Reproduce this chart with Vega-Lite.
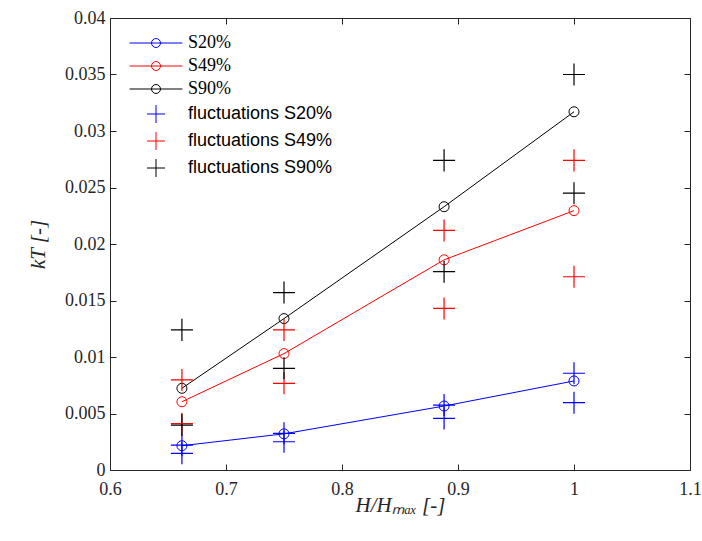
{
  "$schema": "https://vega.github.io/schema/vega-lite/v6.json",
  "width": 580,
  "height": 452,
  "autosize": {"type": "none"},
  "padding": {"left": 110, "top": 18, "right": 12, "bottom": 71},
  "background": "white",
  "config": {
    "view": {"stroke": null},
    "axis": {
      "domainColor": "#262626",
      "tickColor": "#262626",
      "labelColor": "#262626",
      "titleColor": "#262626",
      "labelFont": "Liberation Serif",
      "labelFontSize": 18,
      "titleFont": "Liberation Serif",
      "titleFontSize": 21,
      "titleFontWeight": "normal",
      "titleFontStyle": "italic",
      "grid": false,
      "tickSize": -6,
      "domainWidth": 1,
      "tickWidth": 1
    },
    "legend": {
      "title": null,
      "orient": "none",
      "legendX": 37,
      "legendY": 16,
      "padding": 0,
      "symbolSize": 256,
      "symbolStrokeWidth": 1,
      "symbolFillColor": "transparent",
      "labelOffset": 23,
      "labelFont": {"expr": "indexof(datum.value, 'fluct') >= 0 ? 'Liberation Sans' : 'Liberation Serif'"},
      "labelFontSize": 18,
      "labelColor": "#000000",
      "rowPadding": 5,
      "labelLimit": 300
    }
  },
  "data": {
    "values": [
      {"x": 0.662, "y": 0.00215, "series": "S20%", "kind": "mean"},
      {"x": 0.75, "y": 0.0032, "series": "S20%", "kind": "mean"},
      {"x": 0.888, "y": 0.00566, "series": "S20%", "kind": "mean"},
      {"x": 1.0, "y": 0.00788, "series": "S20%", "kind": "mean"},
      {"x": 0.662, "y": 0.00604, "series": "S49%", "kind": "mean"},
      {"x": 0.75, "y": 0.0103, "series": "S49%", "kind": "mean"},
      {"x": 0.888, "y": 0.0186, "series": "S49%", "kind": "mean"},
      {"x": 1.0, "y": 0.02295, "series": "S49%", "kind": "mean"},
      {"x": 0.662, "y": 0.00723, "series": "S90%", "kind": "mean"},
      {"x": 0.75, "y": 0.0134, "series": "S90%", "kind": "mean"},
      {"x": 0.888, "y": 0.0233, "series": "S90%", "kind": "mean"},
      {"x": 1.0, "y": 0.0317, "series": "S90%", "kind": "mean"},
      {"x": 0.662, "y": 0.0022, "series": "fluctuations S20%", "kind": "fluct"},
      {"x": 0.662, "y": 0.00148, "series": "fluctuations S20%", "kind": "fluct"},
      {"x": 0.75, "y": 0.00325, "series": "fluctuations S20%", "kind": "fluct"},
      {"x": 0.75, "y": 0.0025, "series": "fluctuations S20%", "kind": "fluct"},
      {"x": 0.888, "y": 0.00575, "series": "fluctuations S20%", "kind": "fluct"},
      {"x": 0.888, "y": 0.00457, "series": "fluctuations S20%", "kind": "fluct"},
      {"x": 1.0, "y": 0.00856, "series": "fluctuations S20%", "kind": "fluct"},
      {"x": 1.0, "y": 0.00596, "series": "fluctuations S20%", "kind": "fluct"},
      {"x": 0.662, "y": 0.00797, "series": "fluctuations S49%", "kind": "fluct"},
      {"x": 0.662, "y": 0.0041, "series": "fluctuations S49%", "kind": "fluct"},
      {"x": 0.75, "y": 0.0124, "series": "fluctuations S49%", "kind": "fluct"},
      {"x": 0.75, "y": 0.00767, "series": "fluctuations S49%", "kind": "fluct"},
      {"x": 0.888, "y": 0.0212, "series": "fluctuations S49%", "kind": "fluct"},
      {"x": 0.888, "y": 0.0143, "series": "fluctuations S49%", "kind": "fluct"},
      {"x": 1.0, "y": 0.0274, "series": "fluctuations S49%", "kind": "fluct"},
      {"x": 1.0, "y": 0.0171, "series": "fluctuations S49%", "kind": "fluct"},
      {"x": 0.662, "y": 0.0124, "series": "fluctuations S90%", "kind": "fluct"},
      {"x": 0.662, "y": 0.00398, "series": "fluctuations S90%", "kind": "fluct"},
      {"x": 0.75, "y": 0.0157, "series": "fluctuations S90%", "kind": "fluct"},
      {"x": 0.75, "y": 0.009, "series": "fluctuations S90%", "kind": "fluct"},
      {"x": 0.888, "y": 0.0274, "series": "fluctuations S90%", "kind": "fluct"},
      {"x": 0.888, "y": 0.01755, "series": "fluctuations S90%", "kind": "fluct"},
      {"x": 1.0, "y": 0.035, "series": "fluctuations S90%", "kind": "fluct"},
      {"x": 1.0, "y": 0.0245, "series": "fluctuations S90%", "kind": "fluct"}
    ]
  },
  "resolve": {"axis": {"x": "independent", "y": "independent"}},
  "layer": [
    {
      "transform": [{"filter": "datum.kind === 'mean'"}],
      "mark": {"type": "line", "strokeWidth": 1},
      "encoding": {
        "x": {"field": "x", "type": "quantitative", "scale": {"domain": [0.6, 1.1], "nice": false, "zero": false},
              "axis": {"orient": "bottom", "values": [0.6, 0.7, 0.8, 0.9, 1.0, 1.1], "format": "~g", "labelPadding": 16, "labelFlush": false, "title": "H/Hₘₐₓ [-]", "titlePadding": -4}},
        "y": {"field": "y", "type": "quantitative", "scale": {"domain": [0, 0.04], "nice": false},
              "axis": {"orient": "left", "values": [0, 0.005, 0.01, 0.015, 0.02, 0.025, 0.03, 0.035, 0.04], "format": "~g", "labelPadding": 11, "labelFlush": false, "title": "kT [-]", "titlePadding": 16}},
        "color": {"field": "series", "type": "nominal"}
      }
    },
    {
      "transform": [{"filter": "datum.kind === 'mean'"}],
      "mark": {"type": "point", "shape": "circle", "filled": false, "size": 100, "strokeWidth": 1, "opacity": 1},
      "encoding": {
        "x": {"field": "x", "type": "quantitative",
              "axis": {"orient": "top", "values": [0.6, 0.7, 0.8, 0.9, 1.0, 1.1], "labels": false, "title": null}},
        "y": {"field": "y", "type": "quantitative",
              "axis": {"orient": "right", "values": [0, 0.005, 0.01, 0.015, 0.02, 0.025, 0.03, 0.035, 0.04], "labels": false, "title": null}},
        "color": {"field": "series", "type": "nominal"}
      }
    },
    {
      "transform": [{"filter": "datum.kind === 'fluct'"}],
      "mark": {"type": "point", "filled": false, "size": 384, "strokeWidth": 1.2, "opacity": 1},
      "encoding": {
        "x": {"field": "x", "type": "quantitative", "axis": null},
        "y": {"field": "y", "type": "quantitative", "axis": null},
        "color": {
          "field": "series", "type": "nominal",
          "scale": {
            "domain": ["S20%", "S49%", "S90%", "fluctuations S20%", "fluctuations S49%", "fluctuations S90%"],
            "range": ["#0000ff", "#ff0000", "#000000", "#0000ff", "#ff0000", "#000000"]
          }
        },
        "shape": {
          "field": "series", "type": "nominal",
          "scale": {
            "domain": ["S20%", "S49%", "S90%", "fluctuations S20%", "fluctuations S49%", "fluctuations S90%"],
            "range": [
              "M-3.3,0H3.3M-0.56,0A0.56,0.56 0 1,1 0.56,0A0.56,0.56 0 1,1 -0.56,0",
              "M-3.3,0H3.3M-0.56,0A0.56,0.56 0 1,1 0.56,0A0.56,0.56 0 1,1 -0.56,0",
              "M-3.3,0H3.3M-0.56,0A0.56,0.56 0 1,1 0.56,0A0.56,0.56 0 1,1 -0.56,0",
              "M-1.125,0H1.125M0,-1.125V1.125",
              "M-1.125,0H1.125M0,-1.125V1.125",
              "M-1.125,0H1.125M0,-1.125V1.125"
            ]
          }
        }
      }
    }
  ]
}
